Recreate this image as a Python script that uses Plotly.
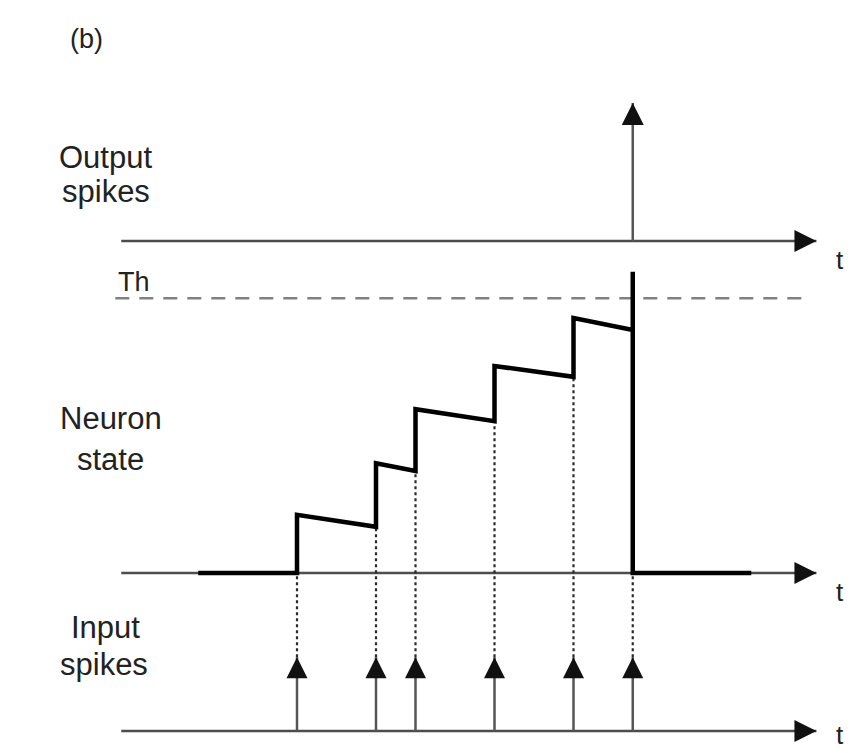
import plotly.graph_objects as go

# ---------------- data ----------------
input_spike_times = [2.0, 4.0, 5.0, 7.0, 9.0, 10.5]
state_before = [0.0, 0.77, 1.70, 2.53, 3.27, 4.05]   # neuron state just before each input spike
state_after = [0.97, 1.83, 2.73, 3.45, 4.25, 5.02]   # neuron state right after each input spike
output_spike_times = [10.5]
threshold = 4.58
state_t_start, state_t_end = -0.5, 13.5
time_axis_extent = [-2.45, 15.15]
threshold_extent = [-2.6, 15.0]
input_spike_height = 1.23
output_spike_height = 2.3

panel_labels = [["Output", "spikes"], ["Neuron", "state"], ["Input", "spikes"]]
axis_label = "t"
threshold_label = "Th"
figure_tag = "(b)"

# ---------------- layout constants ----------------
W, H = 866, 753
BASE_IN, BASE_NEU, BASE_OUT = 0.0, 2.6333, 8.1667
XR = [-5.519, 16.405]
YR = [-0.3667, 12.1833]
AX_COLOR = "#4d4d4d"
TXT = "#222222"
FONT = "Liberation Sans, Arial, sans-serif"

fig = go.Figure()

# time axes (three horizontal arrows)
for base in [BASE_OUT, BASE_NEU, BASE_IN]:
    fig.add_trace(go.Scatter(x=time_axis_extent, y=[base, base], mode="lines",
                             line=dict(color=AX_COLOR, width=2.5), hoverinfo="skip"))
    fig.add_trace(go.Scatter(x=[time_axis_extent[1]], y=[base], mode="markers",
                             marker=dict(symbol="arrow-right", size=22, color="#111",
                                         line=dict(width=0)), hoverinfo="skip"))

# threshold dashed line
fig.add_trace(go.Scatter(x=threshold_extent, y=[BASE_NEU + threshold] * 2, mode="lines",
                         line=dict(color="#808080", width=2.5, dash="14px,10px"),
                         hoverinfo="skip"))

# dotted guide lines from input spikes up to the neuron state
dx, dy = [], []
for t, b in zip(input_spike_times, state_before):
    dx += [t, t, None]
    dy += [BASE_IN + input_spike_height, BASE_NEU + b, None]
fig.add_trace(go.Scatter(x=dx, y=dy, mode="lines",
                         line=dict(color="#2a2a2a", width=2.2, dash="3px,3px"), hoverinfo="skip"))

# input spikes
sx, sy = [], []
for t in input_spike_times:
    sx += [t, t, None]
    sy += [BASE_IN, BASE_IN + input_spike_height, None]
fig.add_trace(go.Scatter(x=sx, y=sy, mode="lines",
                         line=dict(color="#555", width=2.5), hoverinfo="skip"))
fig.add_trace(go.Scatter(x=input_spike_times,
                         y=[BASE_IN + input_spike_height] * len(input_spike_times),
                         mode="markers",
                         marker=dict(symbol="arrow-up", size=21, color="#111", line=dict(width=0)),
                         hoverinfo="skip"))

# output spikes
ox, oy = [], []
for t in output_spike_times:
    ox += [t, t, None]
    oy += [BASE_OUT, BASE_OUT + output_spike_height, None]
fig.add_trace(go.Scatter(x=ox, y=oy, mode="lines",
                         line=dict(color="#555", width=2.5), hoverinfo="skip"))
fig.add_trace(go.Scatter(x=output_spike_times,
                         y=[BASE_OUT + output_spike_height] * len(output_spike_times),
                         mode="markers",
                         marker=dict(symbol="arrow-up", size=22, color="#111", line=dict(width=0)),
                         hoverinfo="skip"))

# neuron state trace
nx, ny = [state_t_start], [0.0]
for t, b, a in zip(input_spike_times, state_before, state_after):
    nx += [t, t]
    ny += [b, a]
nx += [input_spike_times[-1], state_t_end]
ny += [0.0, 0.0]
fig.add_trace(go.Scatter(x=nx, y=[BASE_NEU + v for v in ny], mode="lines",
                         line=dict(color="#000", width=4.5), hoverinfo="skip"))

# ---------------- text ----------------
def px(xp, yp):
    return xp / W, 1 - yp / H

annos = []
def add_text(text, xp, yp, size, xanchor="center"):
    x, y = px(xp, yp)
    annos.append(dict(text=text, x=x, y=y, xref="paper", yref="paper", showarrow=False,
                      xanchor=xanchor, yanchor="middle",
                      font=dict(family=FONT, size=size, color=TXT)))

add_text(figure_tag, 86, 39, 27)
label_pos = [[(105, 157), (106, 191)], [(111, 419), (110, 459)], [(105, 627), (104, 664)]]
for lines, poss in zip(panel_labels, label_pos):
    for s, (xp, yp) in zip(lines, poss):
        add_text(s, xp, yp, 31)
add_text(threshold_label, 116, 282, 27, xanchor="left")
for yp in [260, 592, 735]:
    add_text(axis_label, 840, yp, 26)

fig.update_layout(
    width=W, height=H, margin=dict(l=0, r=0, t=0, b=0),
    paper_bgcolor="white", plot_bgcolor="white", showlegend=False,
    xaxis=dict(range=XR, visible=False, fixedrange=True),
    yaxis=dict(range=YR, visible=False, fixedrange=True),
    annotations=annos,
)

fig.write_html("out.html", config={"displayModeBar": False})
